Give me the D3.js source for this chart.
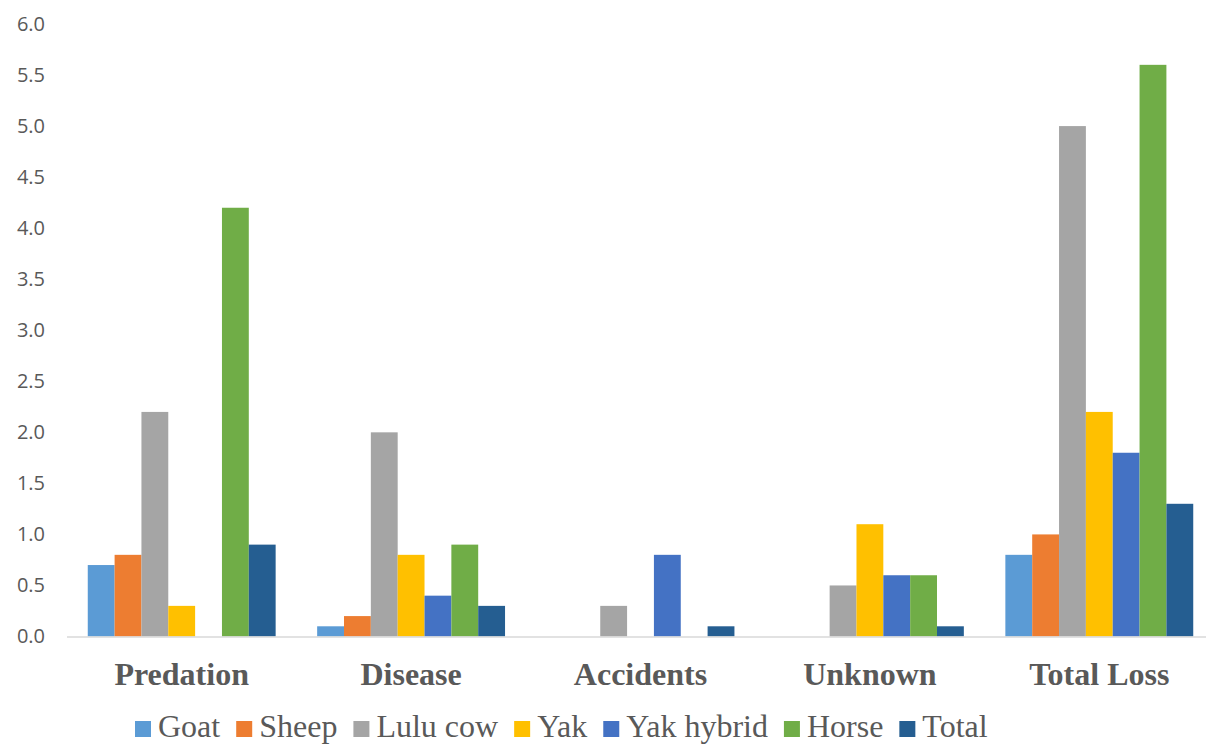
<!DOCTYPE html>
<html lang="en">
  <head>
    <meta charset="utf-8">
    <title>Livestock Loss</title>
    <script src="https://d3js.org/d3.v7.min.js"></script>
    <style>
      body { margin: 0; background: #fff; }
    </style>
  </head>
  <body>
    <script type="text/javascript">
    // chart data
    var categories = ["Predation", "Disease", "Accidents", "Unknown", "Total Loss"];
    var seriesNames = ["Goat", "Sheep", "Lulu cow", "Yak", "Yak hybrid", "Horse", "Total"];
    var colors = ["#5B9BD5", "#ED7D31", "#A5A5A5", "#FFC000", "#4472C4", "#70AD47", "#255E91"];
    var goat = [0.7, 0.1, 0, 0, 0.8];
    var sheep = [0.8, 0.2, 0, 0, 1.0];
    var luluCow = [2.2, 2.0, 0.3, 0.5, 5.0];
    var yak = [0.3, 0.8, 0, 1.1, 2.2];
    var yakHybrid = [0, 0.4, 0.8, 0.6, 1.8];
    var horse = [4.2, 0.9, 0, 0.6, 5.6];
    var total = [0.9, 0.3, 0.1, 0.1, 1.3];
    var yTicks = [0, 0.5, 1, 1.5, 2, 2.5, 3, 3.5, 4, 4.5, 5, 5.5, 6];

    var series = [goat, sheep, luluCow, yak, yakHybrid, horse, total];

    var w = 1206;
    var h = 744;
    var serif = "'Liberation Serif', 'Times New Roman', serif";

    var svg = d3.select("body")
                .append("svg")
                .attr("width", w)
                .attr("height", h);

    // scales
    var xScale = d3.scaleBand()
                   .domain(categories)
                   .range([67, 1214])
                   .paddingInner(0.181)
                   .paddingOuter(0.0905);

    var xInner = d3.scaleBand()
                   .domain(seriesNames)
                   .range([0, xScale.bandwidth()]);

    var yScale = d3.scaleLinear()
                   .domain([0, 6])
                   .range([636.5, 24]);

    // y axis (labels only)
    var yAxis = d3.axisLeft(yScale)
                  .tickValues(yTicks)
                  .tickFormat(d3.format(".1f"))
                  .tickSize(0)
                  .tickPadding(0);

    var gy = svg.append("g")
                .attr("transform", "translate(45,0)")
                .call(yAxis)
                .attr("font-family", "'Open Sans', sans-serif")
                .attr("font-size", 20);
    gy.select(".domain").remove();
    gy.selectAll("text")
      .attr("fill", "#595959");

    // bars, one group per series
    var groups = svg.selectAll("g.series")
                    .data(series)
                    .enter()
                    .append("g")
                    .attr("class", "series")
                    .attr("fill", function(d, i) { return colors[i]; });

    groups.each(function(vals, si) {
      var g = d3.select(this);
      vals.forEach(function(v, ci) {
        if (v <= 0) return;
        g.append("rect")
         .datum(v)
         .attr("x", xScale(categories[ci]) + xInner(seriesNames[si]))
         .attr("y", yScale(v))
         .attr("width", xInner.bandwidth())
         .attr("height", yScale(0) - yScale(v));
      });
    });

    // x axis
    var xAxis = d3.axisBottom(xScale).tickSize(0).tickPadding(0);
    var gx = svg.append("g")
                .attr("transform", "translate(0," + yScale(0) + ")")
                .call(xAxis)
                .attr("font-family", serif)
                .attr("font-size", 32)
                .attr("font-weight", "bold");
    gx.select(".domain")
      .attr("stroke", "#d9d9d9")
      .attr("stroke-width", 1.5)
      .attr("d", "M67,0.5H1206");
    gx.selectAll("text")
      .attr("fill", "#595959")
      .attr("dy", null)
      .attr("y", 48);

    // legend
    var legend = svg.append("g").attr("class", "legend");
    var lx = 135;
    seriesNames.forEach(function(name, i) {
      legend.append("rect")
            .attr("x", lx)
            .attr("y", 721)
            .attr("width", 16)
            .attr("height", 16)
            .attr("fill", colors[i]);
      var t = legend.append("text")
            .attr("x", lx + 23)
            .attr("y", 737)
            .attr("font-family", serif)
            .attr("font-size", 32)
            .attr("fill", "#595959")
            .text(name);
      lx = lx + 23 + t.node().getComputedTextLength() + 16;
    });
    </script>
  </body>
</html>
